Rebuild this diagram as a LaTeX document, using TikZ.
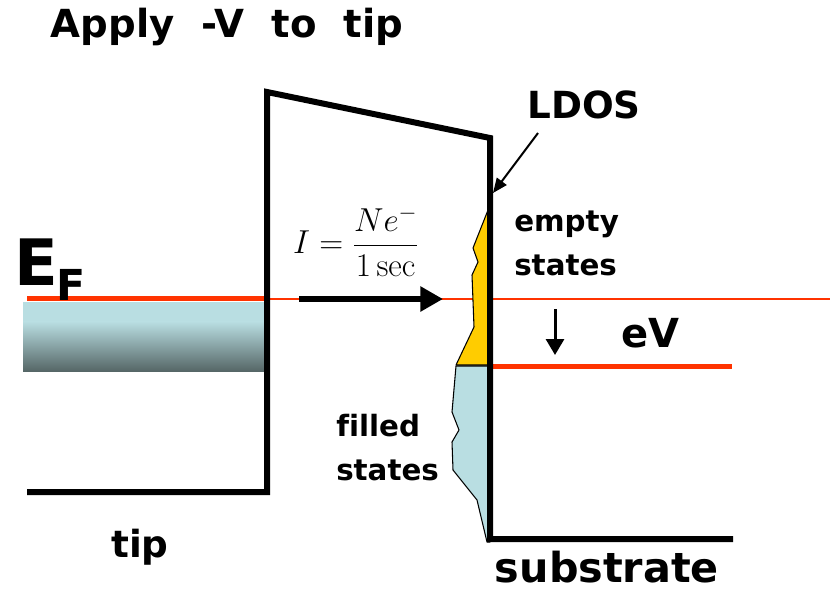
\documentclass[tikz,border=0pt]{standalone}
\usepackage[no-math]{fontspec}
\setmainfont{DejaVu Sans}[Ligatures=NoCommon]
\newfontfamily\titlefont{DejaVu Sans}[WordSpace=2]
\usepackage{tikz}
\usetikzlibrary{arrows.meta, positioning}
\definecolor{fermired}{HTML}{FF3300}
\definecolor{emptyyel}{HTML}{FFCC00}
\definecolor{filledblue}{HTML}{B9DEE2}
\definecolor{tipdark}{HTML}{566767}

\begin{document}
\begin{tikzpicture}[x=0.75pt, y=-0.75pt,
  lbl/.style={font=\bfseries\fontsize{22}{33}\selectfont, inner sep=0pt, align=left},
  bigl/.style={font=\bfseries\fontsize{28}{32}\selectfont, inner sep=0pt},
  wall/.style={line width=4.5pt, line join=miter},
  level/.style={fermired, line width=3.75pt},
  dos/.style={draw=black, line width=0.8pt, line join=round}]
\useasboundingbox (0,0) rectangle (830,593);
% tip side
\fill[filledblue] (23,302) rectangle (264,322);
\shade[top color=filledblue, bottom color=tipdark] (23,321.5) rectangle (264,371);
\draw[level] (27,298) -- (264,298);
\draw[fermired, line width=1.1pt] (267,299) -- (830,299);
% LDOS of the substrate
\filldraw[dos, fill=emptyyel] (490,205) -- (473,248) -- (478,262) -- (472,275) -- (474,327) -- (456,365) -- (490,365) -- cycle;
\filldraw[dos, fill=filledblue] (456,366) -- (452,412) -- (459,430) -- (452,442) -- (453,470) -- (477,500) -- (487,542) -- (490,542) -- (490,366) -- cycle;
\draw[level] (493,366) -- (732,366);
% barrier
\draw[wall] (27,492) -- (267,492) -- (267,92) -- (490,138) -- (490,539) -- (733,539);
% labels
\node[inner sep=0pt, anchor=base, font=\titlefont\bfseries\fontsize{29}{32}\selectfont] (title) at (227,37) {Apply -V to tip};
\node[inner sep=0pt, anchor=base west, font=\bfseries\fontsize{48}{48}\selectfont] (ef) at (14,285)
  {E\kern-1pt\raisebox{-11.25pt}{\fontsize{32}{32}\selectfont F}};
\node[inner sep=0pt, font=\fontsize{26}{30}\selectfont] (current) at (356,241)
  {$\displaystyle I=\frac{Ne^{-}}{1\,\mathrm{sec}}$};
\node[bigl, anchor=base] (ldos) at (584,118) {LDOS};
\node[lbl, anchor=west] (empty) at (514,243) {empty\\states};
\node[lbl, anchor=west] (filled) at (336,448) {filled\\states};
\node[bigl, anchor=base west, font=\bfseries\fontsize{30}{32}\selectfont] (ev) at (621,347) {eV};
\node[bigl, anchor=base] (tiplbl) at (140,557) {tip};
\node[bigl, anchor=base, font=\bfseries\fontsize{31}{32}\selectfont] (sublbl) at (607,582) {substrate};
% arrows
\coordinate (curStart) at (299,299);
\coordinate (curEnd) at (443,299);
\draw[line width=5pt, -{Triangle[length=17pt, width=18pt]}] (curStart) -- (curEnd);
\coordinate (ldosTip) at (493,193);
\draw[line width=1.5pt, -{Triangle[length=11pt, width=9pt]}] (538,133) -- (ldosTip);
\coordinate (evTop) at (555,309);
\coordinate (evBot) at (555,355);
\draw[line width=2.25pt, -{Triangle[length=12pt, width=13.5pt]}] (evTop) -- (evBot);
\end{tikzpicture}
\end{document}
